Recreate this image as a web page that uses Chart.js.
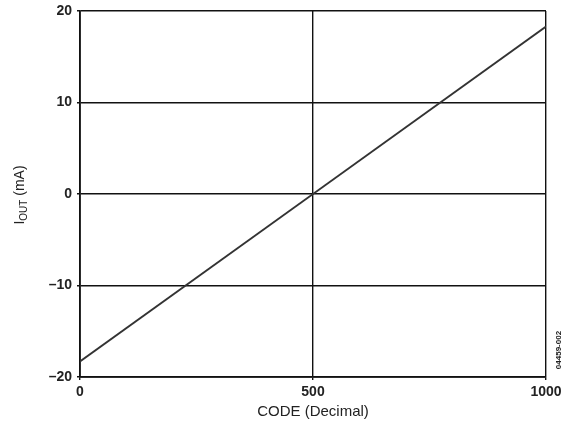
<!DOCTYPE html>
<html>
<head>
<meta charset="utf-8">
<script src="https://cdn.jsdelivr.net/npm/chart.js@4"></script>
<style>
  html, body { margin: 0; padding: 0; background: #fff; }
  #wrap { width: 569px; height: 425px; }
</style>
</head>
<body>
<div id="wrap"><canvas id="ioutChart"></canvas></div>
<script>
const codes = [0, 500, 1000];
const iout = [-18.3, 0, 18.3];
const xTicks = [0, 500, 1000];
const yTicks = [-20, -10, 0, 10, 20];

const FONT = '"Liberation Sans", Arial, sans-serif';

// axis titles and the part number, drawn by hand (subscript + rotated text)
const axisLabels = {
  id: 'axisLabels',
  afterDraw(chart) {
    const ctx = chart.ctx;
    const area = chart.chartArea;
    ctx.save();
    ctx.fillStyle = '#222';

    ctx.font = '15px ' + FONT;
    ctx.textAlign = 'center';
    ctx.textBaseline = 'middle';
    ctx.fillText('CODE (Decimal)', (area.left + area.right) / 2, 412);

    // I_OUT (mA), rotated
    ctx.translate(19, 195);
    ctx.rotate(-Math.PI / 2);
    ctx.textAlign = 'left';
    ctx.textBaseline = 'alphabetic';
    const big = '14px ' + FONT, small = '10px ' + FONT;
    ctx.font = big;
    const wI = ctx.measureText('I').width;
    ctx.font = small;
    const wSub = ctx.measureText('OUT').width;
    ctx.font = big;
    const wRest = ctx.measureText(' (mA)').width;
    let x = -(wI + wSub + wRest) / 2;
    ctx.fillText('I', x, 5);
    x += wI;
    ctx.font = small;
    ctx.fillText('OUT', x, 8);
    x += wSub;
    ctx.font = big;
    ctx.fillText(' (mA)', x, 5);
    ctx.restore();

    ctx.save();
    ctx.fillStyle = '#222';
    ctx.font = 'bold 8px ' + FONT;
    ctx.translate(559, 350);
    ctx.rotate(-Math.PI / 2);
    ctx.textAlign = 'center';
    ctx.textBaseline = 'middle';
    ctx.fillText('04459-002', 0, 0);
    ctx.restore();
  }
};

new Chart(document.getElementById('ioutChart'), {
  type: 'scatter',
  data: {
    datasets: [{
      data: codes.map((c, i) => ({ x: c, y: iout[i] })),
      showLine: true,
      borderColor: '#333',
      borderWidth: 1.8,
      pointRadius: 0,
      tension: 0
    }]
  },
  options: {
    responsive: true,
    maintainAspectRatio: false,
    animation: false,
    layout: { padding: { top: 11, right: 23, left: 0, bottom: 0 } },
    plugins: {
      legend: { display: false },
      tooltip: { enabled: false }
    },
    scales: {
      x: {
        type: 'linear',
        min: 0,
        max: 1000,
        afterFit(scale) { scale.height = 48; },
        afterBuildTicks(scale) { scale.ticks = xTicks.map(v => ({ value: v })); },
        grid: { color: '#111', lineWidth: 1.4, tickLength: 3 },
        border: { color: '#111', width: 1.8 },
        ticks: {
          color: '#222',
          padding: 4,
          maxRotation: 0,
          font: { family: FONT, size: 14, weight: 'bold' },
          callback: v => String(v)
        }
      },
      y: {
        min: -20,
        max: 20,
        afterFit(scale) { scale.width = 80; scale.paddingTop = 0; scale.paddingBottom = 0; },
        afterBuildTicks(scale) { scale.ticks = yTicks.map(v => ({ value: v })); },
        grid: { color: '#111', lineWidth: 1.4, tickLength: 3 },
        border: { color: '#111', width: 1.8 },
        ticks: {
          color: '#222',
          padding: 5,
          font: { family: FONT, size: 14, weight: 'bold', lineHeight: 1 },
          callback: v => (v < 0 ? '\u2013' + Math.abs(v) : String(v))
        }
      }
    }
  },
  plugins: [axisLabels]
});
</script>
</body>
</html>
